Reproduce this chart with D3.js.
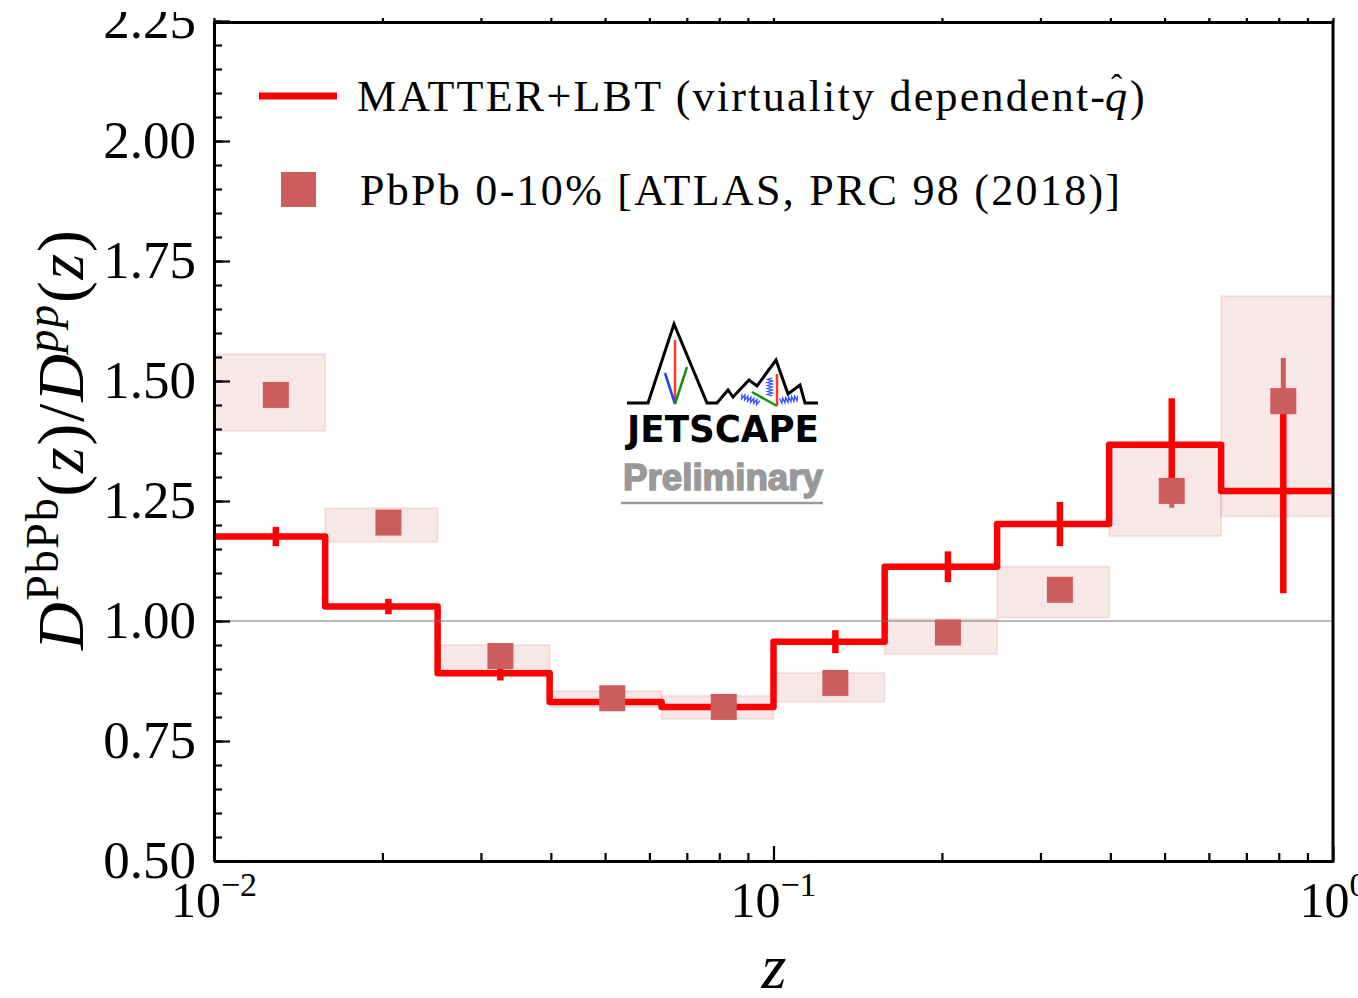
<!DOCTYPE html>
<html>
<head>
<meta charset="utf-8">
<script src="https://cdn.jsdelivr.net/npm/d3@7"></script>
<style>
  body { margin: 0; background: #fff; }
  svg { display: block; font-family: "Liberation Serif", serif; }
</style>
</head>
<body>
<svg id="chart"></svg>
<script>
// Bin edges in z (5 log bins per decade) and bin centres used for the markers
const binEdges = [0.01, 0.0158, 0.0251, 0.0398, 0.0631, 0.1, 0.158, 0.251, 0.398, 0.631, 1.0];
const zCenters = [0.0129, 0.0205, 0.0325, 0.0515, 0.0815, 0.129, 0.205, 0.325, 0.515, 0.815];

// MATTER+LBT (virtuality dependent qhat)
const theoryVal = [1.176, 1.030, 0.891, 0.831, 0.821, 0.957, 1.113, 1.202, 1.367, 1.271];
const theoryErr = [0.020, 0.016, 0.015, 0.008, 0.008, 0.024, 0.032, 0.046, 0.097, 0.213];

// ATLAS PbPb 0-10%
const atlasVal = [1.471, 1.205, 0.927, 0.839, 0.821, 0.871, 0.976, 1.065, 1.271, 1.458];
const atlasStat = [0.010, 0.010, 0.010, 0.008, 0.008, 0.010, 0.010, 0.015, 0.035, 0.090];
const atlasSysLo = [1.396, 1.165, 0.898, 0.821, 0.796, 0.832, 0.931, 1.007, 1.177, 1.218];
const atlasSysHi = [1.556, 1.235, 0.950, 0.854, 0.844, 0.892, 1.004, 1.113, 1.367, 1.677];

// Axis ticks
const yTicks = [0.5, 0.75, 1.0, 1.25, 1.5, 1.75, 2.0, 2.25];
const yMinorTicks = d3.range(0.5, 2.2501, 0.05);
const xTicks = [0.01, 0.1, 1];
const xTickExp = ["\u22122", "\u22121", "0"];
const xMinorTicks = [-2, -1].flatMap(k => d3.range(2, 10).map(m => m * Math.pow(10, k)));

const W = 1358, H = 998;
const plot = { left: 214, right: 1333, top: 22, bottom: 861 };

const red = "#ff0000";
const indianred = "#cd5c5c";
const band = "rgba(205,92,92,0.15)";

const svg = d3.select("#chart").attr("width", W).attr("height", H);

const x = d3.scaleLog().domain([0.01, 1]).range([plot.left, plot.right]);
const y = d3.scaleLinear().domain([0.5, 2.25]).range([plot.bottom, 21]);

svg.append("defs").append("clipPath").attr("id", "clip")
    .append("rect")
    .attr("x", plot.left).attr("y", plot.top)
    .attr("width", plot.right - plot.left).attr("height", plot.bottom - plot.top);

const bins = d3.range(theoryVal.length).map(i => ({
    lo: binEdges[i], hi: binEdges[i + 1], zc: zCenters[i],
    tv: theoryVal[i], te: theoryErr[i],
    dv: atlasVal[i], ds: atlasStat[i], sysLo: atlasSysLo[i], sysHi: atlasSysHi[i]
}));

const g = svg.append("g").attr("clip-path", "url(#clip)");

// systematic boxes
g.selectAll(".sys").data(bins).enter().append("rect")
    .attr("class", "sys")
    .attr("x", d => x(d.lo))
    .attr("width", d => x(d.hi) - x(d.lo))
    .attr("y", d => y(d.sysHi))
    .attr("height", d => y(d.sysLo) - y(d.sysHi))
    .attr("fill", band)
    .attr("stroke", band)
    .attr("stroke-width", 2);

// data stat error bars (under the theory)
g.selectAll(".dstat").data(bins).enter().append("line")
    .attr("class", "dstat")
    .attr("x1", d => x(d.zc)).attr("x2", d => x(d.zc))
    .attr("y1", d => y(d.dv + d.ds)).attr("y2", d => y(d.dv - d.ds))
    .attr("stroke", indianred)
    .attr("stroke-width", 5);

// theory step line
const stepPts = bins.flatMap(d => [[d.lo, d.tv], [d.hi, d.tv]]);
g.append("path")
    .datum(stepPts)
    .attr("d", d3.line().x(d => x(d[0])).y(d => y(d[1])))
    .attr("fill", "none")
    .attr("stroke", red)
    .attr("stroke-width", 6.5)
    .attr("stroke-linejoin", "round");

g.selectAll(".terr").data(bins).enter().append("line")
    .attr("class", "terr")
    .attr("x1", d => x(d.zc)).attr("x2", d => x(d.zc))
    .attr("y1", d => y(d.tv + d.te)).attr("y2", d => y(d.tv - d.te))
    .attr("stroke", red)
    .attr("stroke-width", 6.5);

// reference line at 1
g.append("line")
    .attr("x1", plot.left).attr("x2", plot.right)
    .attr("y1", y(1)).attr("y2", y(1))
    .attr("stroke", "#777")
    .attr("stroke-width", 1.2);

// data markers
const sq = 26;
g.selectAll(".pt").data(bins).enter().append("rect")
    .attr("class", "pt")
    .attr("x", d => x(d.zc) - sq / 2)
    .attr("y", d => y(d.dv) - sq / 2)
    .attr("width", sq).attr("height", sq)
    .attr("fill", indianred);

// ---- axes ----
function styleAxis(sel) {
    sel.select(".domain").attr("stroke", "#000").attr("stroke-width", 3);
    sel.selectAll(".tick line").attr("stroke", "#000").attr("stroke-width", 2.2);
}

// left
svg.append("g")
    .attr("transform", `translate(${plot.left},0)`)
    .call(d3.axisLeft(y).tickValues(yMinorTicks).tickSize(-8).tickSizeOuter(0).tickFormat(""))
    .call(styleAxis);
svg.append("g")
    .attr("transform", `translate(${plot.left},0)`)
    .call(d3.axisLeft(y).tickValues(yTicks).tickSize(-16).tickSizeOuter(0)
        .tickPadding(18).tickFormat(d3.format(".2f")))
    .call(styleAxis)
    .call(a => a.selectAll("text")
        .attr("fill", "#000")
        .style("font-family", "'Liberation Serif', serif")
        .style("font-size", "53px"));

// the reference image is cropped just above the 2.25 label
svg.append("rect")
    .attr("x", 80).attr("y", 0).attr("width", 124).attr("height", 12)
    .attr("fill", "#fff");

// bottom
svg.append("g")
    .attr("transform", `translate(0,${plot.bottom})`)
    .call(d3.axisBottom(x).tickValues(xMinorTicks).tickSize(-8).tickSizeOuter(0).tickFormat(""))
    .call(styleAxis);
svg.append("g")
    .attr("transform", `translate(0,${plot.bottom})`)
    .call(d3.axisBottom(x).tickValues(xTicks).tickSize(-15).tickSizeOuter(0).tickFormat(""))
    .call(styleAxis);

// top (short outward ticks) and right frame
svg.append("g")
    .attr("transform", `translate(0,${plot.top})`)
    .call(d3.axisTop(x).tickValues(xMinorTicks.concat(xTicks)).tickSize(4).tickSizeOuter(0).tickFormat(""))
    .call(styleAxis);
svg.append("line")
    .attr("x1", plot.right).attr("x2", plot.right)
    .attr("y1", plot.top - 1.5).attr("y2", plot.bottom + 1.5)
    .attr("stroke", "#000").attr("stroke-width", 3);

// x tick labels 10^k
const xLab = svg.append("g").selectAll("text").data(xTicks).enter().append("text")
    .attr("x", d => x(d))
    .attr("y", 917)
    .attr("text-anchor", "middle")
    .style("font-size", "50px");
xLab.append("tspan").text("10");
xLab.append("tspan").attr("dy", -21).style("font-size", "34px").text((d, i) => xTickExp[i]);

// axis titles
svg.append("text")
    .attr("x", 774).attr("y", 988)
    .attr("text-anchor", "middle")
    .style("font-size", "64px")
    .style("font-style", "italic")
    .text("z");

const yl = svg.append("text")
    .attr("transform", "translate(83,440) rotate(-90)")
    .attr("text-anchor", "middle")
    .attr("textLength", 420).attr("lengthAdjust", "spacing")
    .style("font-size", "66px");
yl.append("tspan").style("font-style", "italic").text("D");
yl.append("tspan").attr("dy", -25).style("font-size", "46px").text("PbPb");
yl.append("tspan").attr("dy", 25).text("(");
yl.append("tspan").style("font-style", "italic").text("z");
yl.append("tspan").text(")/");
yl.append("tspan").style("font-style", "italic").text("D");
yl.append("tspan").attr("dy", -25).style("font-size", "46px").style("font-style", "italic").text("pp");
yl.append("tspan").attr("dy", 25).text("(");
yl.append("tspan").style("font-style", "italic").text("z");
yl.append("tspan").text(")");

// ---- legend ----
const leg = svg.append("g").style("font-size", "44px");
leg.append("line")
    .attr("x1", 259).attr("x2", 337).attr("y1", 96).attr("y2", 96)
    .attr("stroke", red).attr("stroke-width", 7);
leg.append("text")
    .attr("x", 357).attr("y", 111)
    .attr("textLength", 748).attr("lengthAdjust", "spacing")
    .text("MATTER+LBT (virtuality dependent-");
leg.append("text")
    .attr("x", 1105).attr("y", 111)
    .style("font-style", "italic")
    .text("q");
leg.append("text")
    .attr("x", 1111).attr("y", 98)
    .style("font-size", "34px")
    .text("\u02C6");
leg.append("text")
    .attr("x", 1130).attr("y", 111)
    .text(")");

leg.append("rect")
    .attr("x", 281).attr("y", 172).attr("width", 35).attr("height", 35)
    .attr("fill", indianred);
leg.append("text")
    .attr("x", 360).attr("y", 205)
    .attr("textLength", 760).attr("lengthAdjust", "spacing")
    .text("PbPb 0-10% [ATLAS, PRC 98 (2018)]");

// ---- JETSCAPE Preliminary logo ----
const logo = svg.append("g").attr("transform", "translate(600,310)");
const ridge = [[27,93],[48,93],[74,14],[107,93],[117,93],[128,80],[133,87],[149,70],[157,76],
               [176,50],[188,84],[200,75],[205,93],[218,93]];
logo.append("path")
    .attr("d", d3.line()(ridge))
    .attr("fill", "none").attr("stroke", "#000").attr("stroke-width", 3)
    .attr("stroke-linejoin", "miter");

const jets = [
    { p: [[75, 30], [75, 94]], c: "#ff3b1f" },
    { p: [[65, 63], [75, 94]], c: "#1f3cff" },
    { p: [[75, 94], [87, 57]], c: "#159015" },
    { p: [[177, 64], [177, 96]], c: "#ff3b1f" },
    { p: [[152, 82], [177, 96]], c: "#159015" }
];
jets.forEach(j => logo.append("path")
    .attr("d", d3.line()(j.p))
    .attr("stroke", j.c).attr("stroke-width", 2.5).attr("fill", "none"));

function coil(a, b, n, amp) {
    const dx = b[0] - a[0], dy = b[1] - a[1];
    const len = Math.hypot(dx, dy), nx = -dy / len, ny = dx / len;
    const pts = [];
    for (let i = 0; i <= n * 2; i++) {
        const t = i / (n * 2), s = (i % 2 ? 1 : -1) * amp;
        pts.push([a[0] + dx * t + nx * s, a[1] + dy * t + ny * s]);
    }
    return d3.line()(pts);
}
[[[141, 86], [159, 93], 6], [[170, 68], [170, 86], 6], [[180, 91], [198, 88], 6]].forEach(c =>
    logo.append("path")
        .attr("d", coil(c[0], c[1], c[2], 2.5))
        .attr("stroke", "#2a4dff").attr("stroke-width", 1.3).attr("fill", "none"));

logo.append("text")
    .attr("x", 27).attr("y", 132)
    .attr("textLength", 192).attr("lengthAdjust", "spacingAndGlyphs")
    .style("font-family", "'DejaVu Sans', sans-serif")
    .style("font-weight", "bold")
    .style("font-size", "37px")
    .text("JETSCAPE");
logo.append("text")
    .attr("x", 23).attr("y", 180)
    .attr("textLength", 200).attr("lengthAdjust", "spacingAndGlyphs")
    .attr("fill", "#999")
    .attr("stroke", "#999").attr("stroke-width", 1.6)
    .style("font-family", "'Liberation Sans', sans-serif")
    .style("font-weight", "bold")
    .style("font-size", "37px")
    .text("Preliminary");
logo.append("line")
    .attr("x1", 21).attr("x2", 223).attr("y1", 193).attr("y2", 193)
    .attr("stroke", "#999").attr("stroke-width", 2.5);
</script>
</body>
</html>
